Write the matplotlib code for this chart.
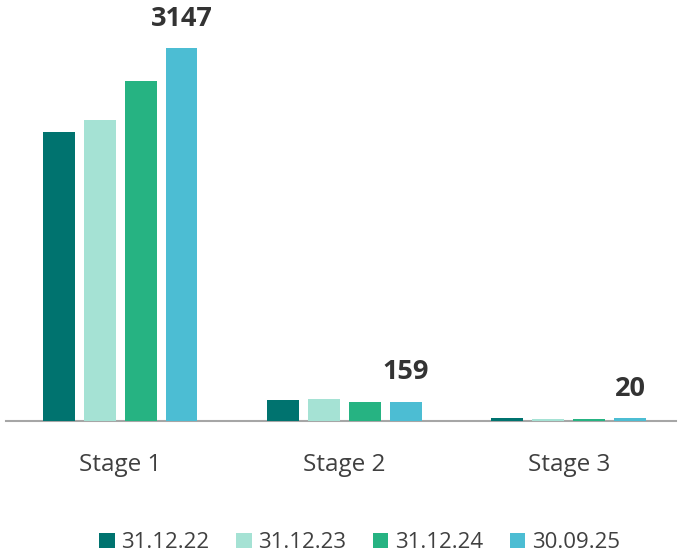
import matplotlib.pyplot as plt
import numpy as np

plt.rcParams['font.family'] = ['Open Sans', 'DejaVu Sans']

stages = ['Stage 1', 'Stage 2', 'Stage 3']
series = ['31.12.22', '31.12.23', '31.12.24', '30.09.25']
values = {
    '31.12.22': [2437, 175, 22],
    '31.12.23': [2538, 183, 17],
    '31.12.24': [2870, 158, 18],
    '30.09.25': [3147, 159, 20],
}
colors = ['#00736F', '#A5E2D4', '#26B382', '#4CBDD3']

fig = plt.figure(figsize=(6.79, 5.52), dpi=100)
ax = fig.add_axes([6/679, (552-420.7)/552, 670/679, (420.7-10)/552])

x = np.arange(len(stages))
w = 0.1425
step = 0.1826
for i, s in enumerate(series):
    pos = x + (i - 1.5) * step
    bars = ax.bar(pos, values[s], width=w, color=colors[i], label=s, zorder=3)
    if s == '30.09.25':
        for b, v in zip(bars, values[s]):
            ax.annotate(str(v), (b.get_x() + b.get_width()/2, v),
                        xytext=(0, 12), textcoords='offset points',
                        ha='center', va='bottom', fontsize=19.5,
                        fontweight='bold', color='#333333')

ax.set_xlim(-0.508, 2.477)
ax.set_ylim(0, 3471)
for sp in ['top', 'right', 'left']:
    ax.spines[sp].set_visible(False)
ax.spines['bottom'].set_color('#A6A6A6')
ax.spines['bottom'].set_linewidth(1.5)
ax.spines['bottom'].set_zorder(2)
ax.set_yticks([])
ax.set_xticks(x)
ax.set_xticklabels(stages, fontsize=17.5, color='#404040')
ax.tick_params(axis='x', length=0, pad=23)

fig.legend(loc='center', bbox_to_anchor=(0.5295, 0.017), ncol=4, frameon=False,
           fontsize=16, handlelength=0.7, handleheight=0.7, handletextpad=0.3,
           columnspacing=1.2, labelcolor='#404040')

fig.savefig('out.png', dpi=100)
